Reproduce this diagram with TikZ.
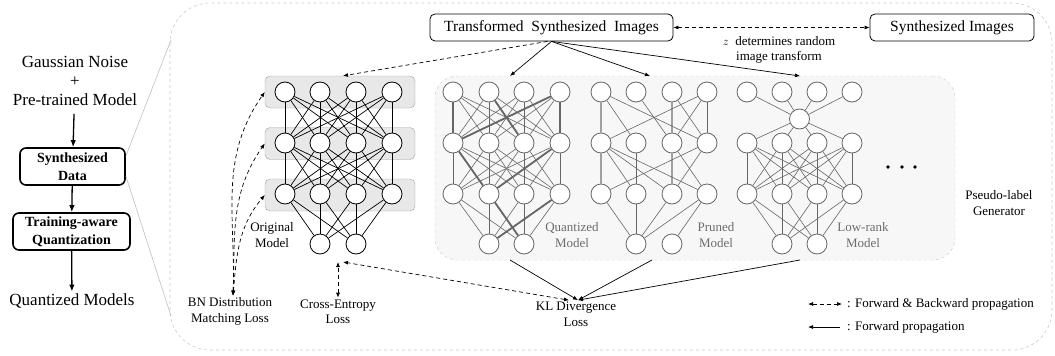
\documentclass[tikz,border=0pt]{standalone}
\usepackage{fontspec}
\setmainfont{Liberation Serif}
\usepackage{xcolor}
\usetikzlibrary{arrows.meta}

\definecolor{netgray}{HTML}{666666}
\definecolor{lightline}{HTML}{A0A0A0}
\definecolor{panelfill}{HTML}{F7F7F7}
\definecolor{panelline}{HTML}{C8C8C8}
\definecolor{layerfill}{HTML}{E8E8E8}

\newcommand{\bigfont}{\fontsize{17}{19}\selectfont}
\newcommand{\boxfont}{\fontsize{15.5}{18}\selectfont}
\newcommand{\smallfont}{\fontsize{13}{15.5}\selectfont}

\tikzstyle{txt} = [align=center, inner sep=2pt, font=\smallfont]
\tikzstyle{flowbox} = [draw=black, line width=1.6pt, rounded corners=6pt,
    align=center, inner sep=0pt, font=\bfseries\fontsize{14}{18}\selectfont]
\tikzstyle{imgbox} = [draw=black, line width=0.8pt, rounded corners=5pt,
    minimum height=27pt, inner sep=0pt, font=\boxfont]
\tikzstyle{neuron} = [circle, draw=black, fill=white, line width=0.8pt,
    minimum size=20pt, inner sep=0pt]
\tikzstyle{gneuron} = [neuron, draw=netgray]
\tikzstyle{layerbox} = [draw=gray!75, fill=layerfill, rounded corners=5pt,
    minimum width=150pt, minimum height=32pt]
\tikzstyle{panel} = [draw=panelline, dashed, fill=panelfill, rounded corners=22pt,
    minimum width=520pt, minimum height=184pt]
\tikzstyle{edge} = [line width=0.7pt]
\tikzstyle{gedge} = [draw=netgray, line width=0.6pt]
\tikzstyle{gthick} = [draw=netgray, line width=1.8pt]
\tikzstyle{gvert} = [draw=lightline, line width=1.3pt]
\tikzstyle{fw} = [-{Latex[length=5pt,width=4pt]}, line width=0.7pt]
\tikzstyle{fwbw} = [{Latex[length=5pt,width=4pt]}-{Latex[length=5pt,width=4pt]},
    dash pattern=on 4pt off 3pt, line width=0.7pt]
\tikzstyle{bw} = [-{Latex[length=5pt,width=4pt]}, dash pattern=on 4pt off 3pt, line width=0.7pt]
\tikzstyle{flow} = [-{Latex[length=7pt,width=5.5pt]}, line width=1.3pt]
\tikzstyle{modeltxt} = [txt, text=gray!85!black]

\begin{document}
\begin{tikzpicture}[x=1pt,y=-1pt]
\useasboundingbox (0,0) rectangle (1055,356);

% pipeline on the left
\node[txt, font=\bigfont] (gauss) at (75,81) {Gaussian Noise\\+\\Pre-trained Model};
\node[flowbox, minimum width=105pt, minimum height=37pt] (sd) at (72.5,166.5) {Synthesized\\Data};
\node[flowbox, minimum width=117pt, minimum height=37pt] (taq) at (71.5,231.5) {Training-aware\\Quantization};
\node[txt, font=\bigfont] (qm) at (72,301) {Quantized Models};
\draw[flow, shorten <=6pt] (gauss) -- (sd);
\draw[flow] (sd) -- (taq);
\draw[flow] (taq) -- (qm);

% zoomed region
\draw[draw=panelline, dashed, rounded corners=40pt, line width=0.6pt] (170,3) rectangle (1052,350);
\coordinate (zt) at (171,40);
\coordinate (zb) at (171,316);
\draw[draw=gray!50, line width=0.6pt] ([yshift=-9pt]sd.north east) -- (zt);
\draw[draw=gray!50, line width=0.6pt] ([yshift=10pt]sd.south east) -- (zb);

% images
\node[imgbox, minimum width=243pt] (tsi) at (551.5,27.5) {Transformed\ \ Synthesized\ \ Images};
\node[imgbox, minimum width=164pt] (si) at (952,27.5) {Synthesized Images};
\draw[fwbw] (tsi) -- (si);
\node[txt] (zdet) at (779,50) {$z$\ \ determines random\\image transform};

% original model
\foreach \r/\y in {1/92,2/143.5,3/195}
  \node[layerbox] (box\r) at (340,\y) {};
\foreach \i/\x in {1/285,2/320,3/356,4/392} {
  \node[neuron] (oa\i) at (\x,92) {};
  \node[neuron] (ob\i) at (\x,143) {};
  \node[neuron] (oc\i) at (\x,194) {};
}
\node[neuron] (od1) at (320,244) {};
\node[neuron] (od2) at (356,244) {};
\foreach \i in {1,...,4} \foreach \j in {1,...,4} {
  \draw[edge] (oa\i) -- (ob\j);
  \draw[edge] (ob\i) -- (oc\j);
}
\foreach \i in {1,...,4} \foreach \j in {1,2}
  \draw[edge] (oc\i) -- (od\j);
\node[txt] (orig) at (272,235) {Original\\Model};

% pseudo-label generator
\node[panel] (panel) at (695,168) {};

% quantized
\foreach \i/\x in {1/453,2/489,3/524,4/560} {
  \node[gneuron] (qa\i) at (\x,92) {};
  \node[gneuron] (qb\i) at (\x,143) {};
  \node[gneuron] (qc\i) at (\x,194) {};
}
\node[gneuron] (qd1) at (489,244) {};
\node[gneuron] (qd2) at (524,244) {};
\foreach \i in {1,...,4} \foreach \j in {1,...,4} {
  \draw[gedge] (qa\i) -- (qb\j);
  \draw[gedge] (qb\i) -- (qc\j);
}
\foreach \i in {1,...,4} \foreach \j in {1,2}
  \draw[gedge] (qc\i) -- (qd\j);
\foreach \i/\j in {1/1,2/3,4/4,4/1}
  \draw[gthick] (qa\i) -- (qb\j);
\foreach \i/\j in {1/2,4/2}
  \draw[gthick] (qb\i) -- (qc\j);
\foreach \i/\j in {2/2,4/1}
  \draw[gthick] (qc\i) -- (qd\j);
\node[modeltxt] (qlab) at (572,235) {Quantized\\Model};

% pruned
\foreach \i/\x in {1/601,2/636,3/672,4/707} {
  \node[gneuron] (pa\i) at (\x,92) {};
  \node[gneuron] (pb\i) at (\x,143) {};
  \node[gneuron] (pc\i) at (\x,194) {};
}
\node[gneuron] (pd1) at (636,244) {};
\node[gneuron] (pd2) at (672,244) {};
\foreach \i/\j in {1/1,3/3}
  \draw[gvert] (pa\i) -- (pb\j);
\foreach \i/\j in {1/2,1/4,2/3,3/4,4/1,4/3,4/4}
  \draw[gedge] (pa\i) -- (pb\j);
\foreach \i/\j in {1/1,3/3}
  \draw[gvert] (pb\i) -- (pc\j);
\foreach \i/\j in {1/2,1/3,1/4,2/2,3/4,4/1,4/3}
  \draw[gedge] (pb\i) -- (pc\j);
\foreach \i/\j in {1/1,2/1,3/1,4/1,4/2}
  \draw[gedge] (pc\i) -- (pd\j);
\node[modeltxt] (plab) at (716,235) {Pruned\\Model};

% low-rank
\foreach \i/\x in {1/747,2/782,3/817,4/852} {
  \node[gneuron] (la\i) at (\x,92) {};
  \node[gneuron] (lb\i) at (\x,143) {};
  \node[gneuron] (lc\i) at (\x,194) {};
}
\node[gneuron] (lm) at (799.5,119) {};
\node[gneuron] (ld1) at (782,244) {};
\node[gneuron] (ld2) at (817,244) {};
\foreach \i in {1,...,4} {
  \draw[gedge] (la\i) -- (lm);
  \draw[gedge] (lm) -- (lb\i);
}
\foreach \i in {1,...,4} \foreach \j in {1,...,4}
  \draw[gedge] (lb\i) -- (lc\j);
\foreach \i in {1,...,4} \foreach \j in {1,2}
  \draw[gedge] (lc\i) -- (ld\j);
\node[modeltxt] (llab) at (863,235) {Low-rank\\Model};

\foreach \x in {888,902,915}
  \fill (\x,167) circle (1.8pt);
\node[txt] (plg) at (999,203) {Pseudo-label\\Generator};

% losses
\node[txt] (bn) at (230,311.5) {BN Distribution\\Matching Loss};
\node[txt] (ce) at (338,312) {Cross-Entropy\\Loss};
\node[txt] (kl) at (576,314.5) {KL Divergence\\Loss};
\coordinate (cetop) at (338,262);
\coordinate (qtop) at (510,76);
\coordinate (ptop) at (650,76);
\coordinate (ltop) at (800,76);
\coordinate (qbot) at (510,260);
\coordinate (pbot) at (652,260);
\coordinate (lbot) at (800,260);

\draw[bw] ([xshift=-4pt]tsi.south) -- ([xshift=3pt]box1.north);
\draw[fw] (tsi.south) -- (qtop);
\draw[fw] (tsi.south) -- (ptop);
\draw[fw] (tsi.south) -- (ltop);

\draw[fwbw] ([xshift=3pt]bn.north) to[out=88, in=235] (box1.west);
\draw[fwbw] ([xshift=3pt]bn.north) to[out=88, in=235] (box2.west);
\draw[fwbw] ([xshift=3pt]bn.north) to[out=85, in=230] (box3.west);
\draw[fwbw] (ce.north) -- (cetop);
\draw[fwbw] ([xshift=-7pt]kl.north) -- ([xshift=5pt]cetop);
\draw[fw] (qbot) -- ([xshift=2pt]kl.north);
\draw[fw] (pbot) -- ([xshift=2pt]kl.north);
\draw[fw] (lbot) -- ([xshift=2pt]kl.north);

% legend
\coordinate (lga) at (808,304);
\coordinate (lgb) at (842,304);
\coordinate (lgc) at (808,327);
\coordinate (lgd) at (840,327);
\draw[fwbw] (lga) -- (lgb);
\draw[fw] (lgd) -- (lgc);
\node[txt, anchor=west] (lgt1) at (845,304) {: Forward \& Backward propagation};
\node[txt, anchor=west] (lgt2) at (845,327) {: Forward propagation};
\end{tikzpicture}
\end{document}
